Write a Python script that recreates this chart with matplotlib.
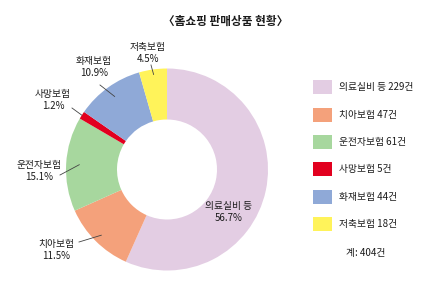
import numpy as np
import matplotlib
matplotlib.use("Agg")
import matplotlib.pyplot as plt
from matplotlib.patches import Rectangle

plt.rcParams['font.family'] = ['Noto Sans CJK KR', 'DejaVu Sans']

# 데이터
categories = ['의료실비 등', '치아보험', '운전자보험', '사망보험', '화재보험', '저축보험']
counts = [229, 47, 61, 5, 44, 18]
pct_labels = ['56.7%', '11.5%', '15.1%', '1.2%', '10.9%', '4.5%']
total_label = '계: 404건'
title = '〈홈쇼핑 판매상품 현황〉'

colors = ['#E3CDE3', '#F4A17B', '#A7D79E', '#E2001F', '#8FA9D7', '#FFF35A']

W, H = 430, 284
fig = plt.figure(figsize=(W / 100, H / 100), dpi=100)
ax = fig.add_axes([0, 0, 1, 1])

def Y(y):
    # pixel (from top) -> data y
    return H - y

cx, cy, R = 167, 169.5, 101
wedges, _ = ax.pie(counts, colors=colors, startangle=90, counterclock=False,
                   radius=R, center=(cx, Y(cy)),
                   wedgeprops=dict(width=51, linewidth=0))
ax.set_xlim(0, W)
ax.set_ylim(0, H)
ax.axis('off')

# 라벨 위치 (텍스트 중심, 선 끝, 선 시작 반경 비율)
label_pos = [(229, 212), (56, 250), (39, 171), (53, 100), (94, 67), (148, 53)]
line_end = [None, (79, 242), (60, 175), (72, 108), (100, 85), (151, 65)]
line_r = [None, 0.92, 0.87, 1.0, 0.89, 0.95]

fs = 7.0
for i, w in enumerate(wedges):
    tx, ty = label_pos[i]
    ax.text(tx, Y(ty), categories[i] + '\n' + pct_labels[i], ha='center', va='center',
            fontsize=fs, color='#1a1a1a', linespacing=1.25)
    if line_end[i] is not None:
        ang = np.deg2rad((w.theta1 + w.theta2) / 2)
        sx = cx + line_r[i] * R * np.cos(ang)
        sy = Y(cy) + line_r[i] * R * np.sin(ang)
        ex, ey = line_end[i]
        ax.plot([sx, ex], [sy, Y(ey)], color='#444444', lw=0.6)

# 범례
row_y = [87, 115, 142, 169, 197, 224]
for i in range(len(categories)):
    ax.add_patch(Rectangle((313, Y(row_y[i]) - 7), 19, 14, facecolor=colors[i], edgecolor='none'))
    ax.text(339, Y(row_y[i]), '%s %d건' % (categories[i], counts[i]), ha='left', va='center',
            fontsize=fs, color='#1a1a1a')
ax.text(366, Y(253), total_label, ha='center', va='center', fontsize=fs, color='#1a1a1a')

ax.text(226, Y(21), title, ha='center', va='center', fontsize=8.4, fontweight='bold', color='#1a1a1a')

fig.savefig('out.png', dpi=100)
